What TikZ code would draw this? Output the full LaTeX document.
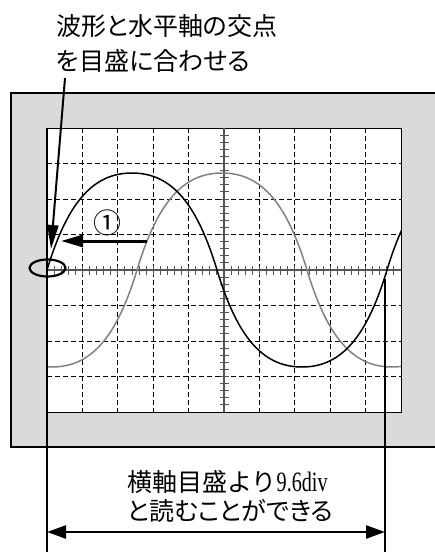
\documentclass[tikz,border=0pt]{standalone}
\usepackage{fontspec}
\setmainfont{Liberation Serif}
\newfontfamily\latinnarrow{Liberation Serif}[FakeStretch=0.72]
\newfontfamily\jpfont{Noto Sans CJK JP}[RawFeature={+palt}]
\newfontfamily\jpwide{Noto Sans CJK JP}
\newfontfamily\circfont{Noto Sans CJK JP}
\usetikzlibrary{arrows.meta,shapes.geometric}
\definecolor{panelgray}{RGB}{218,218,218}
\definecolor{wavegray}{RGB}{130,130,130}
\definecolor{axisgray}{RGB}{85,85,85}
\begin{document}
\begin{tikzpicture}[x=1pt,y=-1pt,
  frame/.style={fill=panelgray,draw=black,line width=2.2pt},
  screen/.style={fill=white,draw=black,line width=0.8pt},
  gridline/.style={draw=black,line width=0.8pt,dash pattern=on 5pt off 3pt},
  axisline/.style={draw=axisgray,line width=1.4pt},
  tickmark/.style={draw=axisgray,line width=0.9pt},
  blackwave/.style={draw=black,line width=1.5pt},
  graywave/.style={draw=wavegray,line width=1.5pt},
  ring/.style={ellipse,draw=black,line width=2.2pt,minimum width=36pt,minimum height=17pt,inner sep=0pt},
  pointer/.style={draw=black,line width=2pt,-{Triangle[length=24pt,width=11pt]}},
  shiftarrow/.style={draw=black,line width=3pt,-{Triangle[length=22pt,width=12pt]}},
  extline/.style={draw=black,line width=2.2pt},
  dimarrow/.style={draw=black,line width=2.5pt,{Triangle[length=19pt,width=13pt]}-{Triangle[length=19pt,width=13pt]}},
  jptext/.style={font=\jpfont\fontsize{25}{30}\selectfont,inner sep=0pt},
]
\useasboundingbox (0,0) rectangle (435,552);
% outer panel and screen
\path[frame] (11,93) rectangle (447,447);
\path[screen] (47,128) rectangle (401,412);
% grid
\foreach \k in {1,2,3,4,6,7,8,9}
  \draw[gridline] ({47+\k*35.4},128) -- ({47+\k*35.4},412);
\foreach \k in {1,2,3,5,6,7}
  \draw[gridline] (47,{128+\k*35.5}) -- (401,{128+\k*35.5});
% axes with ticks
\draw[axisline] (47,270) -- (401,270);
\draw[axisline] (224,128) -- (224,412);
\foreach \k in {1,...,49}
  \draw[tickmark] ({47+\k*7.08},265.5) -- ({47+\k*7.08},274.5);
\foreach \k in {1,...,39}
  \draw[tickmark] (219.5,{128+\k*7.1}) -- (228.5,{128+\k*7.1});
% waves
\begin{scope}
\clip (47,128) rectangle (401,412);
\draw[graywave] (-33,270) .. controls (-13,336) and (12,367) .. (52,367)
  .. controls (92,367) and (117,336) .. (137,270)
  .. controls (157,204) and (182,173) .. (222,173)
  .. controls (262,173) and (287,204) .. (307,270)
  .. controls (327,336) and (352,367) .. (392,367)
  .. controls (432,367) and (457,336) .. (477,270);
\draw[blackwave] (47,270) .. controls (67,204) and (92,173) .. (132,173)
  .. controls (172,173) and (197,204) .. (217,270)
  .. controls (237,336) and (262,367) .. (302,367)
  .. controls (342,367) and (367,336) .. (387,270)
  .. controls (407,204) and (432,173) .. (472,173);
\end{scope}
% left/right reading lines
\coordinate (leftTop) at (47,128);
\coordinate (leftBot) at (47,552);
\coordinate (rightTop) at (385,279);
\coordinate (rightBot) at (385,552);
\draw[extline] (leftTop) -- (leftBot);
\draw[extline,line width=2.6pt] (rightTop) -- (rightBot);
% marker ellipse
\node[ring] (mark) at (47.5,268) {};
% shift arrow
\coordinate (shiftTail) at (147,241);
\coordinate (shiftTip) at (61,241);
\draw[shiftarrow] (shiftTail) -- (shiftTip);
\node[font=\circfont\fontsize{28}{30}\selectfont,inner sep=0pt] (stepOne) at (107,223) {①};
% annotation
\node[jptext,anchor=base west] (noteA) at (56,35) {波形と水平軸の交点};
\node[jptext,anchor=base west] (noteB) at (56,70) {を目盛に合わせる};
\coordinate (noteTail) at (65,78);
\coordinate (noteTip) at (51,249);
\draw[pointer] (noteTail) -- (noteTip);
% dimension
\coordinate (dimL) at (47,532);
\coordinate (dimR) at (385,532);
\draw[dimarrow] (dimL) -- (dimR);
\node[jptext,font=\jpwide\fontsize{25}{30}\selectfont,anchor=base west] (readA) at (127,491) {横軸目盛より{\latinnarrow\fontsize{28}{30}\selectfont 9.6div}};
\node[jptext,anchor=base west] (readB) at (127,520) {と読むことができる};
\end{tikzpicture}
\end{document}
